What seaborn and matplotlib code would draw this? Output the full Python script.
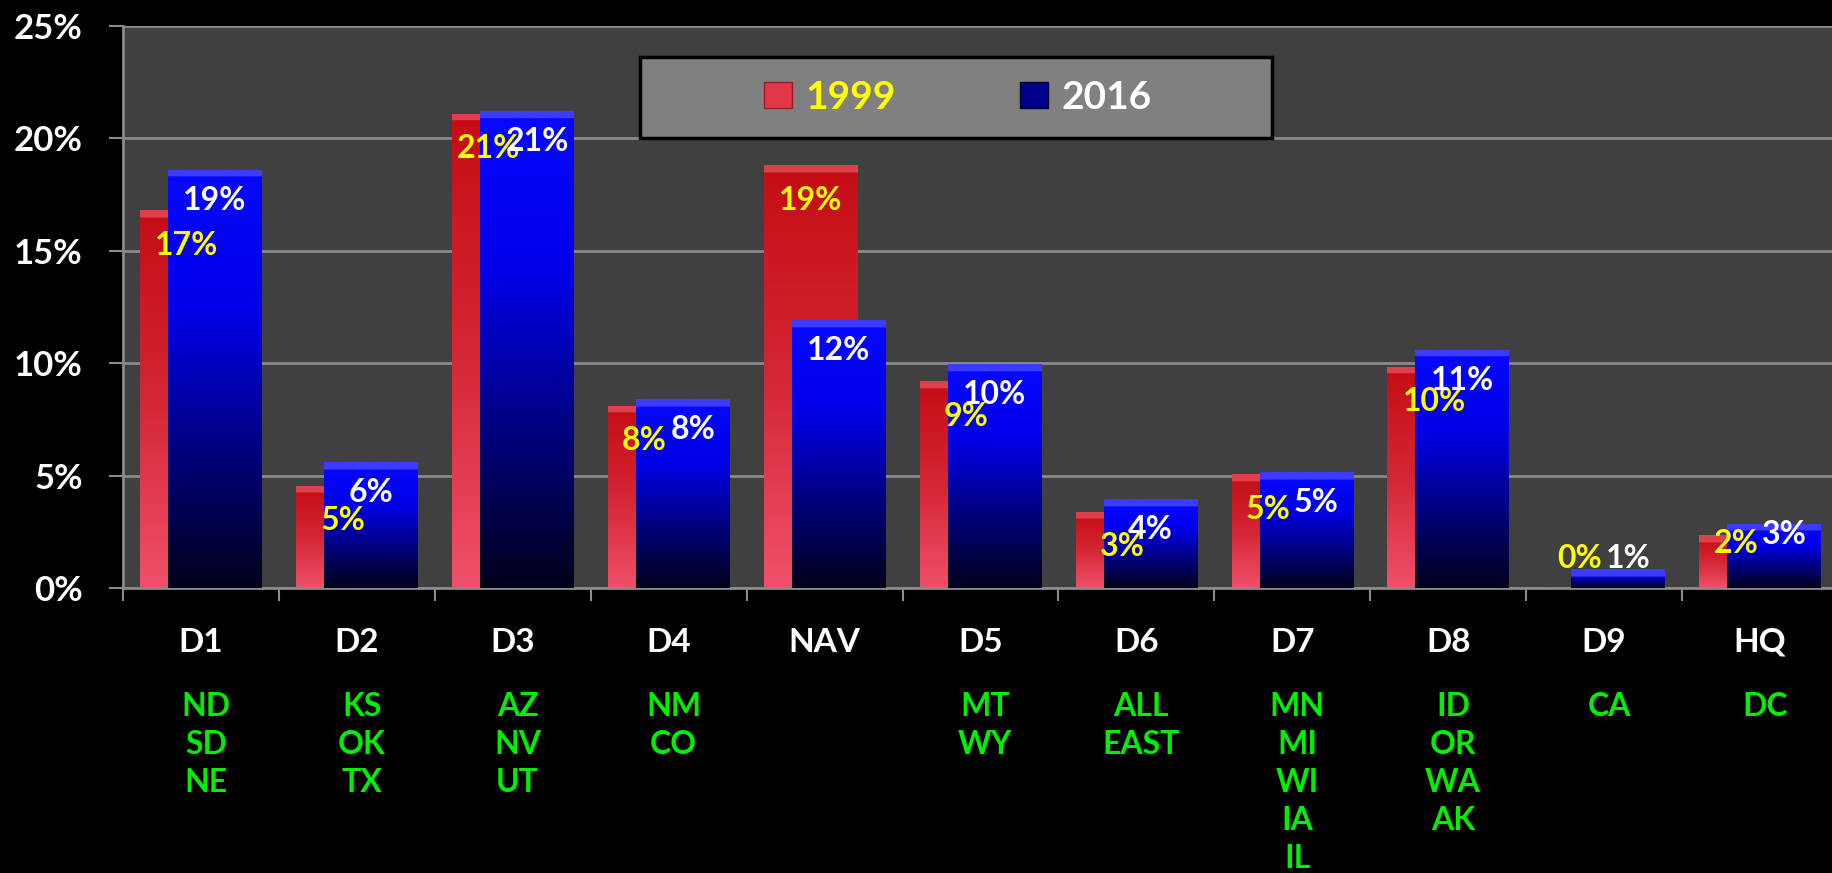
import numpy as np
import pandas as pd
import matplotlib
matplotlib.use('Agg')
import matplotlib.pyplot as plt
import seaborn as sns
from matplotlib.colors import LinearSegmentedColormap, to_rgb
from matplotlib.patches import Rectangle, Patch

# data (percent of total)
districts = ["D1", "D2", "D3", "D4", "NAV", "D5", "D6", "D7", "D8", "D9", "HQ"]
states = [["ND", "SD", "NE"], ["KS", "OK", "TX"], ["AZ", "NV", "UT"], ["NM", "CO"], [],
          ["MT", "WY"], ["ALL", "EAST"], ["MN", "MI", "WI", "IA", "IL"],
          ["ID", "OR", "WA", "AK"], ["CA"], ["DC"]]
share_1999 = [16.8, 4.55, 21.1, 8.1, 18.8, 9.2, 3.4, 5.05, 9.85, 0.06, 2.35]
share_2016 = [18.6, 5.6, 21.2, 8.4, 11.9, 9.95, 3.95, 5.15, 10.6, 0.83, 2.85]
y_ticks = [0, 5, 10, 15, 20, 25]

RED_STOPS = ["#c40d14", "#d42634", "#f0506a"]
BLUE_STOPS = ["#0808ff", "#0000e8", "#000080", "#00001a"]

plt.rcParams['font.family'] = ['Lato', 'DejaVu Sans']
plt.rcParams['font.weight'] = 'bold'

df = pd.DataFrame({"district": districts, "y1999": share_1999, "y2016": share_2016})

fig = plt.figure(figsize=(18.33, 8.73), dpi=100, facecolor='black')
ax = fig.add_axes([123 / 1833, 285 / 873, 1715 / 1833, 562 / 873])
ax.set_facecolor('#404040')


def fill_gradient(patch, stops, bevel_color, z):
    x0, w, h = patch.get_x(), patch.get_width(), patch.get_height()
    if h <= 0:
        return
    cmap = LinearSegmentedColormap.from_list("g", stops)
    n = 400
    rgb = cmap(np.linspace(0, 1, n))[:, :3]
    bevel = max(1, int(round(n * min(0.33 / h, 0.6))))
    rgb[:bevel] = to_rgb(bevel_color)
    img = np.repeat(rgb[:, None, :], 2, axis=1)
    im = ax.imshow(img, extent=(x0, x0 + w, 0, h), aspect='auto', origin='upper',
                   zorder=z, interpolation='bilinear')
    im.set_clip_path(patch)


sns.barplot(data=df, x="district", y="y1999", width=0.6, color=RED_STOPS[1],
            errorbar=None, linewidth=0, ax=ax)
red_bars = list(ax.patches)
sns.barplot(data=df, x="district", y="y2016", width=0.6, color=BLUE_STOPS[1],
            errorbar=None, linewidth=0, ax=ax)
blue_bars = list(ax.patches)[len(red_bars):]

for p in red_bars:
    p.set_x(p.get_x() - 0.09)
    p.set_zorder(2)
    fill_gradient(p, RED_STOPS, "#e0404c", 2.1)
for p in blue_bars:
    p.set_x(p.get_x() + 0.09)
    p.set_zorder(3)
    fill_gradient(p, BLUE_STOPS, "#3c3cff", 3.1)

# value labels, pushed apart sideways when the pair sits at the same height
for pr, pb, vr, vb in zip(red_bars, blue_bars, share_1999, share_2016):
    yr = vr - 1.55 if vr >= 3 else max(vr - 0.35, 1.33)
    yb = vb - 1.35 if vb >= 3 else max(vb - 0.45, 1.33)
    nudge = 0.065 if abs(yr - yb) <= 0.55 else 0.0
    ax.text(pr.get_x() + pr.get_width() / 2 - nudge, yr, f"{round(vr)}%", ha='center',
            va='center', color='#ffff00', fontsize=23, fontweight='bold', zorder=6)
    ax.text(pb.get_x() + pb.get_width() / 2 + nudge, yb, f"{round(vb)}%", ha='center',
            va='center', color='white', fontsize=23, fontweight='bold', zorder=7)

ax.set_xlim(-0.5, len(districts) - 0.5)
ax.set_ylim(0, 25)
ax.set_yticks(y_ticks)
ax.set_yticklabels([f"{t}%" for t in y_ticks])
ax.set_xticks(np.arange(-0.5, len(districts), 1))
ax.set_xticklabels([])
ax.set_xlabel("")
ax.set_ylabel("")

ax.set_axisbelow(True)
ax.yaxis.grid(True, color='#8a8a8a', linewidth=2)
ax.xaxis.grid(False)
for side in ['top', 'right']:
    ax.spines[side].set_visible(False)
for side in ['left', 'bottom']:
    ax.spines[side].set_color('#8a8a8a')
    ax.spines[side].set_linewidth(2)
ax.tick_params(axis='y', colors='#8a8a8a', length=10, width=1.5, pad=19,
               labelcolor='white', labelsize=25)
ax.tick_params(axis='x', colors='#8a8a8a', length=9.5, width=1.5)
for lab in ax.get_yticklabels():
    lab.set_fontweight('bold')

# category labels and state lists below the axis
for i, name in enumerate(districts):
    ax.annotate(name, xy=(i, 0), xycoords=('data', 'axes fraction'),
                xytext=(0, -39), textcoords='offset points', ha='center', va='center',
                color='white', fontsize=24, fontweight='bold', annotation_clip=False)
    for k, st in enumerate(states[i]):
        ax.annotate(st, xy=(i, 0), xycoords=('data', 'axes fraction'),
                    xytext=(3.5, -85 - 27.4 * k), textcoords='offset points',
                    ha='center', va='center', color='#00ee00', fontsize=23,
                    fontweight='bold', annotation_clip=False)

# legend box
box = Rectangle((640 / 1833, 1 - 138 / 873), 632 / 1833, 81 / 873, transform=fig.transFigure,
                facecolor='#808080', edgecolor='black', linewidth=2.5, zorder=10,
                clip_on=False)
ax.add_patch(box)
handles = [Patch(facecolor='#e03848', edgecolor='#a01820', linewidth=1),
           Patch(facecolor='#00008c', edgecolor='#000030', linewidth=1)]
leg = ax.legend(handles, ["1999", "2016"], loc='center',
                bbox_to_anchor=(958 / 1833, 1 - 97.5 / 873), bbox_transform=fig.transFigure,
                ncol=2, frameon=False, prop={'size': 28, 'weight': 'bold'},
                handlelength=0.7, handleheight=0.65, handletextpad=0.36,
                columnspacing=3.2)
leg.set_zorder(11)
leg.get_texts()[0].set_color('#ffff00')
leg.get_texts()[1].set_color('white')

fig.savefig("out.png", dpi=100, facecolor='black')
